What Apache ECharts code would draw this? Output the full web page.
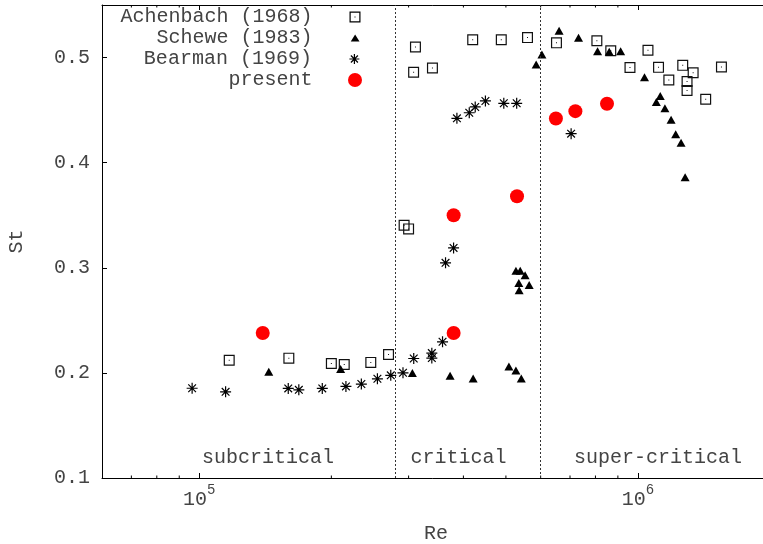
<!DOCTYPE html>
<html>
<head>
<meta charset="utf-8">
<script src="https://cdn.jsdelivr.net/npm/echarts@6/dist/echarts.min.js"></script>
<style>
  html, body { margin: 0; padding: 0; background: #fff; }
  #chart { width: 763px; height: 544px; }
</style>
</head>
<body>
<div id="chart"></div>
<script>
// Strouhal number vs Reynolds number for flow past a circular cylinder

const achenbachRe = [1.17e5, 1.60e5, 2.00e5, 2.14e5, 2.46e5, 2.70e5, 2.93e5, 3.00e5,
  3.11e5, 3.08e5, 3.40e5, 4.20e5, 4.88e5, 5.60e5, 6.52e5, 8.06e5, 8.67e5, 1.054e6,
  9.59e5, 1.114e6, 1.176e6, 1.265e6, 1.336e6, 1.294e6, 1.294e6, 1.427e6, 1.55e6];
const achenbachSt = [0.212, 0.214, 0.209, 0.208, 0.210, 0.2175, 0.3405, 0.337,
  0.510, 0.486, 0.490, 0.517, 0.517, 0.519, 0.514, 0.516, 0.5065, 0.507,
  0.4905, 0.4907, 0.4786, 0.4926, 0.4856, 0.4772, 0.4686, 0.4603, 0.491];

const scheweRe = [1.44e5, 2.10e5, 3.06e5, 3.73e5, 4.21e5, 5.08e5, 5.27e5, 5.42e5,
  5.27e5, 5.39e5, 5.53e5, 5.35e5, 5.65e5, 5.36e5, 5.86e5, 6.04e5, 6.61e5, 7.32e5,
  8.09e5, 8.60e5, 9.13e5, 1.035e6, 1.101e6, 1.124e6, 1.152e6, 1.19e6, 1.219e6,
  1.254e6, 1.281e6];
const scheweSt = [0.201, 0.2036, 0.1998, 0.1972, 0.1947, 0.2061, 0.2023, 0.1947,
  0.2971, 0.2971, 0.293, 0.2856, 0.2837, 0.2787, 0.4935, 0.503, 0.5255, 0.5188,
  0.5059, 0.5056, 0.5059, 0.4812, 0.4577, 0.4634, 0.4517, 0.4409, 0.427,
  0.419, 0.3861];

const bearmanRe = [9.63e4, 1.148e5, 1.595e5, 1.686e5, 1.907e5, 2.159e5, 2.341e5,
  2.547e5, 2.732e5, 2.913e5, 3.082e5, 3.389e5, 3.389e5, 3.585e5, 3.642e5, 3.799e5,
  3.866e5, 4.125e5, 4.256e5, 4.49e5, 4.945e5, 5.291e5, 7.041e5];
const bearmanSt = [0.1854, 0.182, 0.1852, 0.1839, 0.1852, 0.1871, 0.1894,
  0.1944, 0.1977, 0.2001, 0.2137, 0.2188, 0.2141, 0.2296, 0.3047, 0.3189,
  0.4422, 0.4475, 0.453, 0.4587, 0.4565, 0.4565, 0.4276];

const presentRe = [1.395e5, 3.8e5, 3.8e5, 5.3e5, 6.5e5, 7.2e5, 8.5e5];
const presentSt = [0.238, 0.238, 0.350, 0.368, 0.442, 0.449, 0.456];

// Regime boundaries and names
const regimeBounds = [2.8e5, 6.0e5];
const regimeNames = ['subcritical', 'critical', 'super-critical'];

// Axis ranges and minor ticks of the logarithmic Re axis
const reMin = 6e4, reMax = 2e6;
const stMin = 0.1, stMax = 0.55, stStep = 0.1;
const reMinorTicks = [7e4, 8e4, 9e4, 2e5, 3e5, 4e5, 5e5, 6e5, 7e5, 8e5, 9e5, 2e6];

const FONT = '"Liberation Mono", "DejaVu Sans Mono", monospace';
const TXT = '#444';

const SQUARE = 'path://M0,0H11V11H0Z M1.2,1.2V9.8H9.8V1.2Z M5,5H6V6H5Z';
const TRIANGLE = 'path://M5,0L10,8H0Z';
const STAR = 'path://M5,0V10M0,5H10M1.5,1.5L8.5,8.5M8.5,1.5L1.5,8.5';

const zip = (xs, ys) => xs.map((x, i) => [x, ys[i]]);

function legendFor(name, icon, w, h, style, rowCenter) {
  const iconCenter = 355;
  return {
    data: [{ name: name, icon: icon }],
    orient: 'horizontal',
    align: 'right',
    padding: 0,
    right: 763 - (iconCenter + w / 2),
    top: rowCenter - 10,
    itemWidth: w,
    itemHeight: h,
    selectedMode: false,
    itemStyle: style,
    textStyle: { fontFamily: FONT, fontSize: 20, color: TXT, padding: [0, 37.5 - w / 2, 0, 0] }
  };
}

const chart = echarts.init(document.getElementById('chart'), null, { renderer: 'canvas' });

const option = {
  animation: false,
  backgroundColor: '#fff',
  grid: { left: 102, top: 5, width: 668, bottom: 66, containLabel: false, outerBoundsMode: 'none' },
  legend: [
    legendFor('Achenbach (1968)', SQUARE, 11, 11, { color: '#000', borderWidth: 0 }, 17),
    legendFor('Schewe (1983)', TRIANGLE, 9, 7, { color: '#000', borderWidth: 0 }, 38),
    legendFor('Bearman (1969)', STAR, 10, 10, { color: '#000', borderColor: '#000', borderWidth: 1.2 }, 59),
    legendFor('present', 'circle', 14, 14, { color: '#ff0000', borderWidth: 0 }, 80)
  ],
  xAxis: [
    {
      type: 'log', logBase: 10, min: reMin, max: reMax,
      name: 'Re', nameLocation: 'middle', nameGap: 46,
      nameTextStyle: { fontFamily: FONT, fontSize: 20, color: TXT },
      axisLine: { show: true, lineStyle: { color: '#000', width: 1 } },
      axisTick: { show: true, inside: true, length: 5, lineStyle: { color: '#000' } },
      splitLine: { show: false },
      axisLabel: {
        margin: 12, showMinLabel: false, showMaxLabel: false,
        formatter: function (v) {
          const e = Math.log10(v);
          if (Math.abs(e - Math.round(e)) > 1e-6) return '';
          return '{b|10}{s|' + Math.round(e) + '}';
        },
        rich: {
          b: { fontFamily: FONT, fontSize: 20, lineHeight: 20, color: TXT, verticalAlign: 'bottom' },
          s: { fontFamily: FONT, fontSize: 14, lineHeight: 14, color: TXT, verticalAlign: 'bottom', padding: [0, 0, 13, 0] }
        }
      }
    },
    {
      type: 'log', logBase: 10, min: reMin, max: reMax, position: 'top',
      axisLine: { show: true, lineStyle: { color: '#000', width: 1 } },
      axisTick: { show: true, inside: true, length: 5, lineStyle: { color: '#000' } },
      axisLabel: { show: false },
      splitLine: { show: false }
    }
  ],
  yAxis: {
    type: 'value', min: stMin, max: stMax, interval: stStep,
    name: 'St', nameLocation: 'middle', nameGap: 75, nameRotate: 90,
    nameTextStyle: { fontFamily: FONT, fontSize: 20, color: TXT },
    axisLine: { show: true, lineStyle: { color: '#000', width: 1 } },
    axisTick: { show: true, inside: true, length: 5, lineStyle: { color: '#000' } },
    splitLine: { show: false },
    axisLabel: {
      margin: 12, showMaxLabel: false,
      fontFamily: FONT, fontSize: 20, color: TXT,
      formatter: function (v) { return v.toFixed(1); }
    }
  },
  graphic: [
    { type: 'text', x: 268, y: 458, style: { text: regimeNames[0], font: '20px ' + FONT, fill: TXT, align: 'center', verticalAlign: 'middle' } },
    { type: 'text', x: 458.5, y: 458, style: { text: regimeNames[1], font: '20px ' + FONT, fill: TXT, align: 'center', verticalAlign: 'middle' } },
    { type: 'text', x: 658, y: 458, style: { text: regimeNames[2], font: '20px ' + FONT, fill: TXT, align: 'center', verticalAlign: 'middle' } }
  ],
  series: [
    {
      name: 'minor ticks', type: 'custom', silent: true,
      data: reMinorTicks.map(v => [v, stMin]),
      renderItem: function (params, api) {
        const v = api.value(0);
        const b = api.coord([v, stMin]);
        const t = api.coord([v, stMax]);
        return {
          type: 'group',
          children: [
            { type: 'line', shape: { x1: b[0], y1: b[1], x2: b[0], y2: b[1] - 2.5 }, style: { stroke: '#000', lineWidth: 1 } },
            { type: 'line', shape: { x1: t[0], y1: t[1], x2: t[0], y2: t[1] + 2.5 }, style: { stroke: '#000', lineWidth: 1 } }
          ]
        };
      }
    },
    {
      name: 'Achenbach (1968)', type: 'scatter', symbol: SQUARE, symbolSize: 11,
      itemStyle: { color: '#111', opacity: 1 },
      data: zip(achenbachRe, achenbachSt)
    },
    {
      name: 'Schewe (1983)', type: 'scatter', symbol: TRIANGLE, symbolSize: [9, 8],
      itemStyle: { color: '#000', opacity: 1 },
      data: zip(scheweRe, scheweSt)
    },
    {
      name: 'Bearman (1969)', type: 'scatter', symbol: STAR, symbolSize: 11,
      itemStyle: { color: '#000', borderColor: '#000', borderWidth: 1.2, opacity: 1 },
      data: zip(bearmanRe, bearmanSt)
    },
    {
      name: 'present', type: 'scatter', symbol: 'circle', symbolSize: 14,
      itemStyle: { color: '#ff0000', opacity: 1 },
      data: zip(presentRe, presentSt),
      markLine: {
        silent: true, symbol: 'none',
        label: { show: false },
        lineStyle: { type: [2, 2], color: '#333', width: 1 },
        data: regimeBounds.map(v => ({ xAxis: v }))
      }
    }
  ]
};

chart.setOption(option);
</script>
</body>
</html>
